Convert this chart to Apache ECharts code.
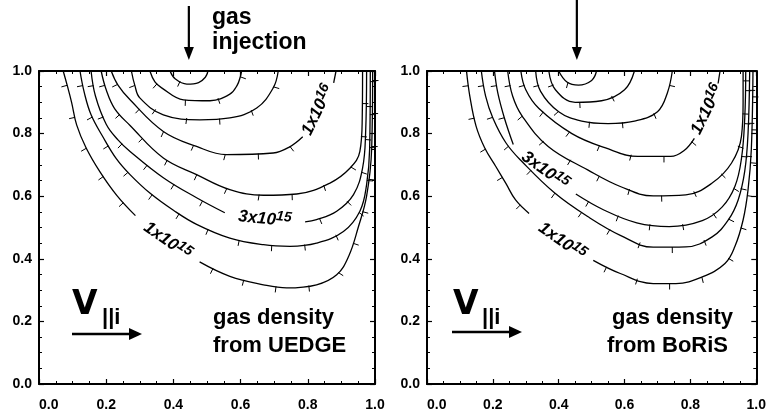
<!DOCTYPE html>
<html><head><meta charset="utf-8">
<script src="https://cdn.jsdelivr.net/npm/echarts/dist/echarts.min.js"></script>
<style>html,body{margin:0;padding:0;background:#fff}#c{width:769px;height:414px}</style>
</head><body><div id="c"></div><script>
// ---------- data (x = poloidal distance, y = radial distance, normalised) ----------
const tickValues = [0.0, 0.2, 0.4, 0.6, 0.8, 1.0];

// UEDGE panel contours (ordered: top-left -> bottom -> right)
const uedgeC1 = [[0.39,1.0],[0.405,0.975],[0.44,0.958],[0.475,0.963],[0.495,0.98],[0.503,1.0]];
const uedgeC2 = [[0.33,1.0],[0.345,0.965],[0.365,0.946],[0.43,0.908],[0.509,0.905],[0.568,0.926],[0.59,0.955],[0.6,0.985],[0.603,1.0]];
const uedgeC3 = [[0.275,1.0],[0.285,0.955],[0.30,0.914],[0.37,0.86],[0.479,0.844],[0.568,0.85],[0.648,0.882],[0.697,0.946],[0.712,1.0]];
const uedge1e16a = [[0.215,1.0],[0.235,0.955],[0.271,0.908],[0.37,0.807],[0.469,0.759],[0.557,0.733],[0.697,0.738],[0.745,0.757],[0.785,0.79]];
const uedge1e16b = [[0.877,0.962],[0.884,1.0]];
const uedgeC5 = [[0.185,1.0],[0.2,0.94],[0.225,0.88],[0.271,0.826],[0.37,0.722],[0.469,0.669],[0.568,0.621],[0.668,0.603],[0.767,0.607],[0.866,0.642],[0.926,0.69],[0.955,0.743],[0.962,0.85],[0.963,1.0]];
const uedge3e15a = [[0.155,1.0],[0.168,0.92],[0.2,0.83],[0.235,0.78],[0.271,0.743],[0.37,0.659],[0.469,0.595],[0.553,0.547]];
const uedge3e15b = [[0.792,0.518],[0.826,0.525],[0.886,0.552],[0.936,0.605],[0.963,0.69],[0.972,0.8],[0.975,1.0]];
const uedgeC7 = [[0.122,1.0],[0.135,0.93],[0.155,0.86],[0.19,0.79],[0.23,0.72],[0.271,0.669],[0.33,0.61],[0.40,0.555],[0.469,0.51],[0.568,0.466],[0.668,0.445],[0.747,0.44],[0.826,0.45],[0.906,0.487],[0.955,0.552],[0.975,0.637],[0.984,0.75],[0.986,1.0]];
const uedge1e15a = [[0.072,1.0],[0.085,0.95],[0.097,0.9],[0.112,0.828],[0.14,0.755],[0.182,0.677],[0.232,0.602],[0.287,0.538]];
const uedge1e15b = [[0.478,0.39],[0.568,0.344],[0.668,0.317],[0.737,0.307],[0.826,0.317],[0.886,0.349],[0.922,0.409],[0.95,0.5],[0.975,0.6],[0.99,0.75],[0.993,1.0]];
const uedgeLabelAt = [[0.382,0.457],[0.672,0.527],[0.83,0.875]];
const uedgeLabelRot = [-35,-6,64];
const uedgeLabelText = ['1x10^15','3x10^15','1x10^16'];

// BoRiS panel contours
const borisC1 = [[0.40,1.0],[0.425,0.965],[0.46,0.955],[0.5,0.97],[0.515,1.0]];
const borisC2 = [[0.37,1.0],[0.39,0.94],[0.45,0.9],[0.53,0.905],[0.6,0.94],[0.63,1.0]];
const borisC3 = [[0.33,1.0],[0.345,0.935],[0.4,0.87],[0.47,0.84],[0.55,0.832],[0.63,0.84],[0.70,0.87],[0.73,0.93],[0.745,1.0]];
const boris1e16a = [[0.285,1.0],[0.3,0.94],[0.34,0.88],[0.44,0.8],[0.54,0.755],[0.64,0.727],[0.74,0.727],[0.78,0.745],[0.812,0.785]];
const boris1e16b = [[0.884,0.96],[0.89,1.0]];
const borisC5 = [[0.245,1.0],[0.26,0.92],[0.289,0.856],[0.368,0.759],[0.488,0.684],[0.587,0.631],[0.687,0.601],[0.786,0.604],[0.866,0.642],[0.925,0.706],[0.955,0.791],[0.96,0.9],[0.96,1.0]];
const boris3e15a = [[0.205,1.0],[0.215,0.93],[0.235,0.85],[0.262,0.765]];
const boris3e15b = [[0.452,0.607],[0.537,0.556],[0.637,0.515],[0.736,0.503],[0.836,0.522],[0.896,0.565],[0.935,0.631],[0.955,0.72],[0.965,0.85],[0.968,1.0]];
const borisC7 = [[0.165,1.0],[0.178,0.92],[0.2,0.85],[0.24,0.77],[0.289,0.71],[0.388,0.61],[0.488,0.535],[0.587,0.475],[0.687,0.437],[0.786,0.438],[0.866,0.47],[0.915,0.524],[0.945,0.588],[0.965,0.68],[0.975,0.8],[0.98,1.0]];
const boris1e15a = [[0.12,1.0],[0.13,0.92],[0.149,0.824],[0.175,0.755],[0.209,0.695],[0.24,0.64],[0.269,0.588],[0.31,0.545]];
const boris1e15b = [[0.505,0.395],[0.587,0.353],[0.687,0.321],[0.756,0.321],[0.836,0.342],[0.905,0.385],[0.935,0.439],[0.96,0.524],[0.975,0.62],[0.985,0.75],[0.99,1.0]];
const borisLabelAt = [[0.41,0.455],[0.358,0.682],[0.851,0.877]];
const borisLabelRot = [-35,-36,64];
const borisLabelText = ['1x10^15','3x10^15','1x10^16'];

const injectionX = 0.446;
// ---------------------------------------------------------------------------

const chart = echarts.init(document.getElementById('c'), null, {renderer:'canvas'});
const LAB = 'Liberation Sans';
const VFONT = 'DejaVu Sans';

function axesFor(gi){
  const common = {type:'value', min:0, max:1, interval:0.2, gridIndex:gi,
    axisLine:{show:true, onZero:false, lineStyle:{color:'#000', width:2}},
    axisTick:{show:true, inside:true, length:5, lineStyle:{color:'#000', width:1.2}},
    minorTick:{show:true, splitNumber:4, length:3, lineStyle:{color:'#000', width:1}},
    splitLine:{show:false}};
  const lab = {show:true, color:'#000', fontFamily:LAB, fontWeight:'bold', fontSize:14,
    formatter: v => v.toFixed(1)};
  return {
    x:[Object.assign({}, common, {position:'bottom', axisLabel:Object.assign({}, lab, {margin:14, alignMinLabel:'left'})}),
       Object.assign({}, common, {position:'top', axisLabel:{show:false}})],
    y:[Object.assign({}, common, {position:'left', axisLabel:Object.assign({}, lab, {margin:7})}),
       Object.assign({}, common, {position:'right', axisLabel:{show:false}})]
  };
}
const a0 = axesFor(0), a1 = axesFor(1);

function hachure(pts){
  return function(params, api){
    if (params.dataIndex !== 0) return null;
    const P = pts.map(q => api.coord(q));
    const cum = [0];
    for (let i=1;i<P.length;i++) cum.push(cum[i-1] + Math.hypot(P[i][0]-P[i-1][0], P[i][1]-P[i-1][1]));
    const total = cum[cum.length-1];
    const children = [];
    const SP = 33, L = 6;
    for (let s = SP*0.45; s < total - 3; s += SP){
      let i = 1; while (i < P.length-1 && cum[i] < s) i++;
      const seg = cum[i]-cum[i-1] || 1;
      const t = (s-cum[i-1])/seg;
      const x = P[i-1][0] + t*(P[i][0]-P[i-1][0]);
      const y = P[i-1][1] + t*(P[i][1]-P[i-1][1]);
      const dx = (P[i][0]-P[i-1][0])/seg, dy = (P[i][1]-P[i-1][1])/seg;
      children.push({type:'line', shape:{x1:x, y1:y, x2:x - dy*L, y2:y + dx*L}, style:{stroke:'#000', lineWidth:1}});
    }
    return {type:'group', children};
  };
}

const series = [];
function addContour(pts, p){
  series.push({type:'line', xAxisIndex:p*2, yAxisIndex:p*2, data:pts, smooth:0.4, symbol:'none',
    lineStyle:{color:'#000', width:1.3}, silent:true, animation:false, clip:true});
  series.push({type:'custom', xAxisIndex:p*2, yAxisIndex:p*2, data:pts, silent:true, animation:false,
    renderItem: hachure(pts)});
}
function addLabels(pos, rot, txt, p){
  series.push({type:'custom', xAxisIndex:p*2, yAxisIndex:p*2, data:pos, silent:true, animation:false,
    renderItem: function(params, api){
      const c = api.coord([api.value(0), api.value(1)]);
      const parts = txt[params.dataIndex].split('^');
      return {type:'text', x:c[0], y:c[1], rotation: rot[params.dataIndex]*Math.PI/180,
        style:{text:'{m|'+parts[0]+'}{s|'+parts[1]+'}', align:'center', verticalAlign:'middle',
          rich:{m:{fontFamily:LAB, fontWeight:'bold', fontStyle:'italic', fontSize:17, lineHeight:22, fill:'#000'},
                s:{fontFamily:LAB, fontWeight:'bold', fontStyle:'italic', fontSize:14, lineHeight:10, verticalAlign:'top', fill:'#000'}}}};
    }});
}
[uedgeC1,uedgeC2,uedgeC3,uedge1e16a,uedge1e16b,uedgeC5,uedge3e15a,uedge3e15b,uedgeC7,uedge1e15a,uedge1e15b].forEach(c=>addContour(c,0));
[borisC1,borisC2,borisC3,boris1e16a,boris1e16b,borisC5,boris3e15a,boris3e15b,borisC7,boris1e15a,boris1e15b].forEach(c=>addContour(c,1));
addLabels(uedgeLabelAt, uedgeLabelRot, uedgeLabelText, 0);
addLabels(borisLabelAt, borisLabelRot, borisLabelText, 1);

const G = [{left:39, top:71, width:336, height:313}, {left:427, top:71, width:336, height:313}];

function txt(x, y, s, size, family, align){
  return {type:'text', x:x, y:y, silent:true, style:{text:s, fill:'#000', font:'bold '+size+'px "'+family+'"',
    align:align||'left', textAlign:align||'left', verticalAlign:'middle', textVerticalAlign:'middle'}};
}
function arrowRight(x1, x2, y){
  return [{type:'line', silent:true, shape:{x1:x1, y1:y, x2:x2-10, y2:y}, style:{stroke:'#000', lineWidth:2.5}},
          {type:'polygon', silent:true, shape:{points:[[x2-13,y-6],[x2,y],[x2-13,y+6]]}, style:{fill:'#000'}}];
}
function arrowDown(x, y1, y2){
  return [{type:'line', silent:true, shape:{x1:x, y1:y1, x2:x, y2:y2-10}, style:{stroke:'#000', lineWidth:2.2}},
          {type:'polygon', silent:true, shape:{points:[[x-5,y2-13],[x,y2],[x+5,y2-13]]}, style:{fill:'#000'}}];
}
function injX(gi){ return G[gi].left + injectionX*G[gi].width; }

const graphic = [].concat(
  arrowDown(injX(0), 6, 60),
  arrowDown(injX(1), 0, 60),
  [txt(212, 18, 'gas', 23, LAB), txt(212, 43, 'injection', 23, LAB)],
  [txt(72, 305, 'V', 33, VFONT), txt(102, 318, '||i', 22, LAB)],
  arrowRight(72, 142, 334),
  [txt(453, 305, 'V', 33, VFONT), txt(482, 318, '||i', 22, LAB)],
  arrowRight(452, 522, 332),
  [txt(213, 318, 'gas density', 22, LAB), txt(213, 346, 'from UEDGE', 22, LAB)],
  [txt(612, 318, 'gas density', 22, LAB), txt(607, 346, 'from BoRiS', 22, LAB)]
);

chart.setOption({
  animation:false,
  backgroundColor:'#fff',
  grid: G,
  xAxis: [a0.x[0], a0.x[1], a1.x[0], a1.x[1]],
  yAxis: [a0.y[0], a0.y[1], a1.y[0], a1.y[1]],
  series: series,
  graphic: graphic
});
</script></body></html>
